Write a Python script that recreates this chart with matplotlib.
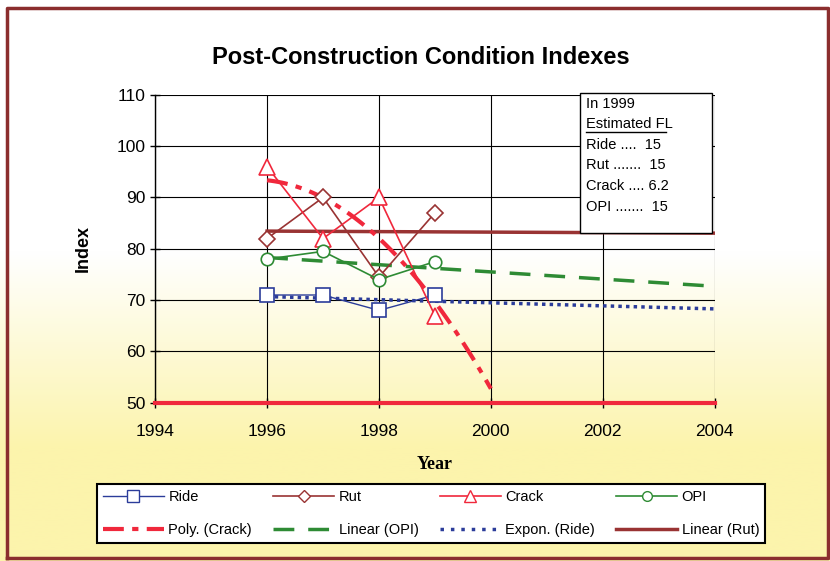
import numpy as np
import matplotlib
matplotlib.use("Agg")
import matplotlib.pyplot as plt
from matplotlib.lines import Line2D
from matplotlib.patches import Rectangle

plt.rcParams['font.family'] = ['Liberation Sans', 'DejaVu Sans']

# data
years = [1996, 1997, 1998, 1999]
ride = [71, 71, 68, 71]
rut = [82, 90, 74.5, 87]
crack = [96, 82, 90, 67]
opi = [78, 79.5, 74, 77.5]
fail_level = 50
x_ticks = [1994, 1996, 1998, 2000, 2002, 2004]
y_ticks = [50, 60, 70, 80, 90, 100, 110]
note_lines = ["Ride ....  15", "Rut .......  15", "Crack .... 6.2", "OPI .......  15"]

c_ride = "#2B3C9A"
c_rut = "#993333"
c_crack = "#F0283C"
c_opi = "#2E8B34"

fig = plt.figure(figsize=(8.3, 5.61), dpi=100)

# background gradient white -> pale yellow
bg = fig.add_axes([0, 0, 1, 1], zorder=-10)
grad = np.linspace(0, 1, 256)
grad = np.clip((grad - 0.45) / 0.35, 0, 1)[:, None]
top = np.array([1.0, 1.0, 1.0])
bot = np.array([252, 244, 172]) / 255
img = top + (bot - top) * grad[..., None]
bg.imshow(img, aspect='auto', extent=[0, 1, 0, 1], origin='upper')
bg.set_xlim(0, 1)
bg.set_ylim(0, 1)
bg.axis('off')
# outer border
bg.plot([0.008, 0.008, 0.997, 0.997, 0.008], [0.005, 0.985, 0.985, 0.005, 0.005],
        color="#8B2E2E", lw=2.5, transform=bg.transAxes, clip_on=False)

ax = fig.add_axes([0.187, 0.282, 0.674, 0.549])
ax.patch.set_alpha(0)

xs = np.array(years, dtype=float)
t = xs - xs[0]

# trend lines (fits of the plotted series, as the spreadsheet did)
pc = np.polyfit(t, crack, 2)
tx = np.linspace(0, 4, 60)
ax.plot(xs[0] + tx, np.polyval(pc, tx), color=c_crack, lw=3, ls=(0, (5, 2, 1.5, 2)), zorder=4)

po = np.polyfit(t, opi, 1)
tx2 = np.linspace(0, 8, 10)
ax.plot(xs[0] + tx2, np.polyval(po, tx2), color=c_opi, lw=2.5, ls=(0, (6, 4)), zorder=3)

pr = np.polyfit(t, np.log(ride), 1)
ax.plot(xs[0] + tx2, np.exp(np.polyval(pr, tx2)), color=c_ride, lw=2.5, ls=(0, (1, 1.2)), zorder=3)

pu = np.polyfit(t, rut, 1)
ax.plot(xs[0] + tx2, np.polyval(pu, tx2), color=c_rut, lw=2.5, zorder=3)

ax.plot([x_ticks[0], x_ticks[-1]], [fail_level, fail_level], color=c_crack, lw=3, zorder=4, clip_on=False)

# data series
ax.plot(years, ride, color=c_ride, lw=1, marker='s', ms=10, mfc='white', mec=c_ride, mew=1.2, zorder=5)
ax.plot(years, rut, color=c_rut, lw=1.2, marker='D', ms=8, mfc='white', mec=c_rut, mew=1.2, zorder=5)
ax.plot(years, crack, color=c_crack, lw=1.2, marker='^', ms=11, mfc='white', mec=c_crack, mew=1.2, zorder=5)
ax.plot(years, opi, color=c_opi, lw=1.2, marker='o', ms=9, mfc='white', mec=c_opi, mew=1.2, zorder=5)

ax.set_xlim(x_ticks[0], x_ticks[-1])
ax.set_ylim(y_ticks[0], y_ticks[-1])
ax.set_xticks(x_ticks)
ax.set_yticks(y_ticks)
ax.grid(True, color='black', lw=0.8)
for sp in ['top', 'right']:
    ax.spines[sp].set_visible(False)
ax.spines['left'].set_linewidth(1)
ax.spines['bottom'].set_visible(False)
ax.tick_params(direction='inout', length=7, labelsize=12.5, width=1)
ax.tick_params(axis='x', pad=12)

ax.set_title("Post-Construction Condition Indexes", fontsize=17, fontweight='bold', pad=22, x=0.475)
ax.set_ylabel("Index", fontsize=13, fontweight='bold', labelpad=18)
ax.set_xlabel("Year", fontsize=13, fontweight='bold', family='Liberation Serif', labelpad=12)

# note box
fig.patches.append(Rectangle((580 / 830, 1 - 233 / 561), 132 / 830, 140 / 561,
                             transform=fig.transFigure, facecolor='white',
                             edgecolor='black', lw=1, zorder=6))
fig.text(586 / 830, 1 - 104 / 561, "In 1999", fontsize=10.5, va='center', zorder=7)
fig.text(586 / 830, 1 - 124 / 561, "Estimated FL", fontsize=10.5, va='center', zorder=7)
fig.add_artist(Line2D([586 / 830, 666 / 830], [1 - 132 / 561, 1 - 132 / 561],
                      color='black', lw=1, zorder=8))
for i, s in enumerate(note_lines):
    fig.text(586 / 830, 1 - (145 + 20.5 * i) / 561, s, fontsize=10.5, va='center', zorder=7)

handles = [
    Line2D([], [], color=c_ride, lw=1, marker='s', ms=8, mfc='white', mec=c_ride),
    Line2D([], [], color=c_crack, lw=3, ls=(0, (5, 2, 1.5, 2))),
    Line2D([], [], color=c_rut, lw=1.2, marker='D', ms=6, mfc='white', mec=c_rut),
    Line2D([], [], color=c_opi, lw=2.5, ls=(0, (6, 4))),
    Line2D([], [], color=c_crack, lw=1.2, marker='^', ms=8, mfc='white', mec=c_crack),
    Line2D([], [], color=c_ride, lw=2.5, ls=(0, (1, 2))),
    Line2D([], [], color=c_opi, lw=1.2, marker='o', ms=7, mfc='white', mec=c_opi),
    Line2D([], [], color=c_rut, lw=2.5),
]
labels = ["Ride", "Poly. (Crack)", "Rut", "Linear (OPI)", "Crack", "Expon. (Ride)", "OPI", "Linear (Rut)"]
leg = fig.legend(handles, labels, ncol=4, loc='center',
                 bbox_to_anchor=(97 / 830, 1 - 555 / 561, 668 / 830, 83 / 561),
                 mode='expand', fontsize=10.5, frameon=True, fancybox=False,
                 edgecolor='black', handlelength=4.2, handletextpad=0.3,
                 labelspacing=1.3, borderaxespad=0)
leg.get_frame().set_linewidth(1.5)
leg.get_frame().set_facecolor('white')
leg.get_frame().set_alpha(1)

fig.savefig("out.png", dpi=100)
